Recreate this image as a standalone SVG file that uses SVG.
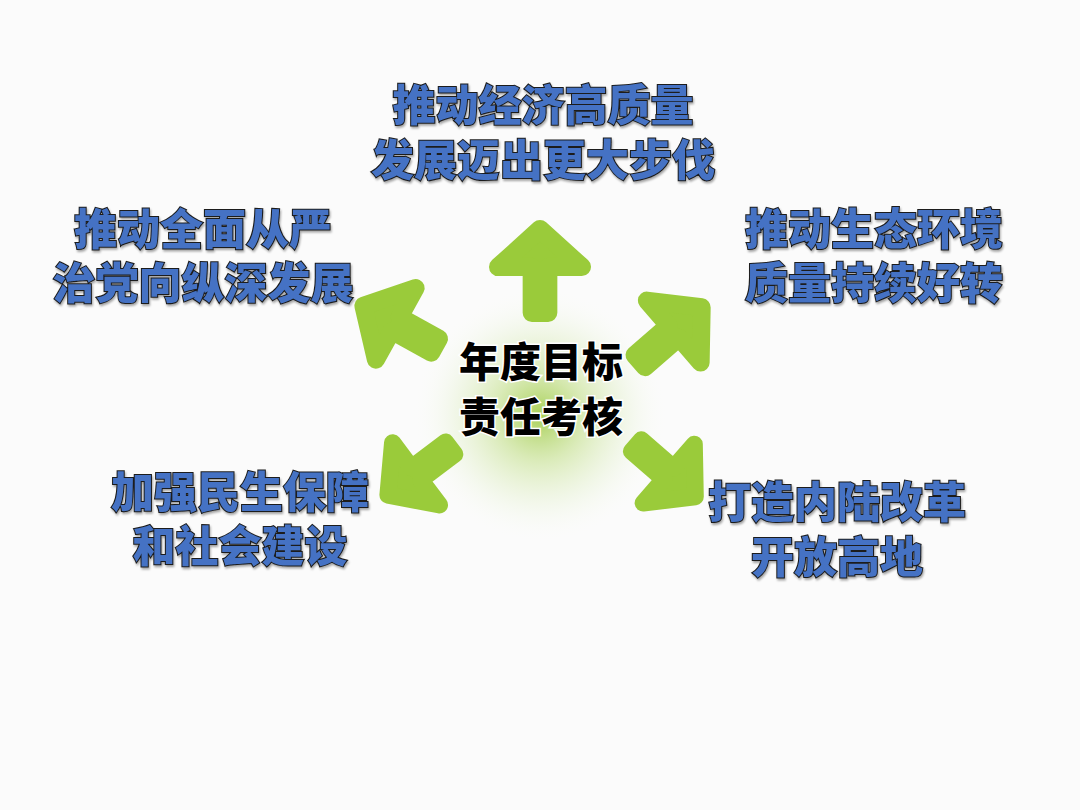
<svg xmlns="http://www.w3.org/2000/svg" width="1080" height="810" viewBox="0 0 1080 810">
<defs>
<radialGradient id="glow" cx="0.5" cy="0.5" r="0.5">
<stop offset="0" stop-color="#9fcb45" stop-opacity="0.9"/>
<stop offset="0.35" stop-color="#c4e08c" stop-opacity="0.6"/>
<stop offset="0.7" stop-color="#e6f2d2" stop-opacity="0.35"/>
<stop offset="1" stop-color="#ffffff" stop-opacity="0"/>
</radialGradient>
<polygon id="arrow" points="0,-91 41,-54 8,-54 8,-9 -8,-9 -8,-54 -41,-54" fill="#9acb3a" stroke="#9acb3a" stroke-width="18" stroke-linejoin="round"/>
<filter id="sh" x="-10%" y="-10%" width="120%" height="130%">
<feDropShadow dx="1" dy="2" stdDeviation="1.2" flood-color="#000" flood-opacity="0.35"/>
</filter>
</defs>
<style>
.goal{font-family:"Noto Sans CJK SC","Noto Sans",sans-serif;font-weight:900;font-size:43px;fill:#4472c4;stroke:#1a1a1a;stroke-width:2;paint-order:stroke;text-anchor:middle;filter:url(#sh)}
.center{font-family:"Noto Sans CJK SC","Noto Sans",sans-serif;font-weight:900;font-size:41px;fill:#000;stroke:#fff;stroke-width:3;paint-order:stroke;text-anchor:middle}
</style>
<rect width="1080" height="810" fill="#fbfbfb"/>
<circle cx="540" cy="415" r="130" fill="url(#glow)"/>
<g id="connectors">
<use href="#arrow" transform="translate(540,322) rotate(0) scale(1.02)"/>
<use href="#arrow" transform="translate(633,367) rotate(49)"/>
<use href="#arrow" transform="translate(443,350) rotate(-61)"/>
<use href="#arrow" transform="translate(457,443) rotate(-127) scale(0.95)"/>
<use href="#arrow" transform="translate(630,440) rotate(131) scale(0.95)"/>
</g>
<g id="center">
<text class="center"><tspan x="541" y="377">年度目标</tspan><tspan x="541" y="432">责任考核</tspan></text>
</g>
<g id="goal-top">
<text class="goal"><tspan x="543" y="121">推动经济高质量</tspan><tspan x="543" y="176">发展迈出更大步伐</tspan></text>
</g>
<g id="goal-upper-left">
<text class="goal"><tspan x="203" y="245">推动全面从严</tspan><tspan x="203" y="299">治党向纵深发展</tspan></text>
</g>
<g id="goal-upper-right">
<text class="goal"><tspan x="874" y="245">推动生态环境</tspan><tspan x="874" y="299">质量持续好转</tspan></text>
</g>
<g id="goal-lower-left">
<text class="goal"><tspan x="240" y="508">加强民生保障</tspan><tspan x="240" y="562">和社会建设</tspan></text>
</g>
<g id="goal-lower-right">
<text class="goal"><tspan x="837" y="518">打造内陆改革</tspan><tspan x="837" y="573">开放高地</tspan></text>
</g>
</svg>
